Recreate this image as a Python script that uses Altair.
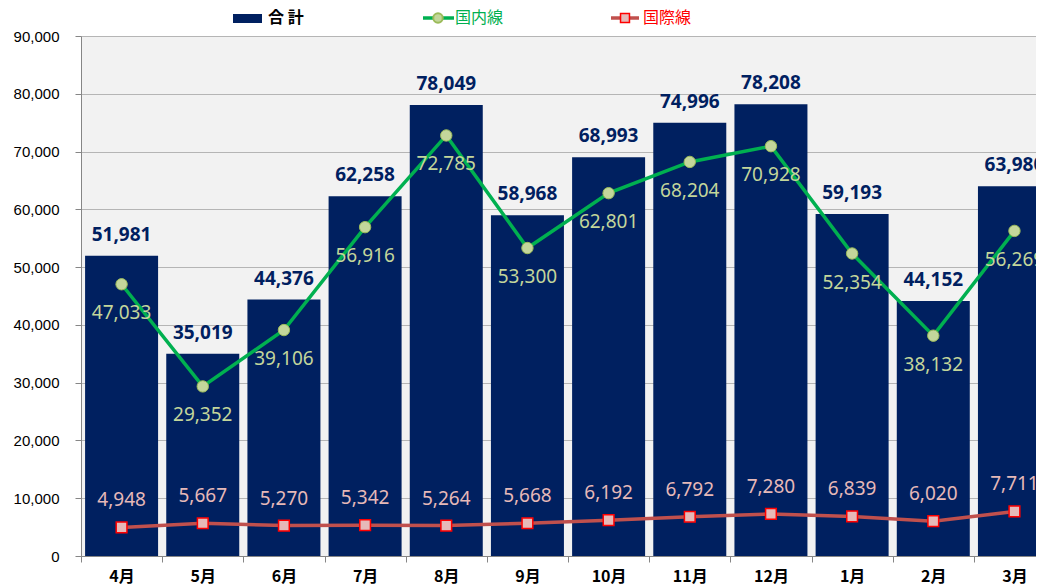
import altair as alt
import pandas as pd

months = ["4月", "5月", "6月", "7月", "8月", "9月", "10月", "11月", "12月", "1月", "2月", "3月"]
total = [51981, 35019, 44376, 62258, 78049, 58968, 68993, 74996, 78208, 59193, 44152, 63980]
domestic = [47033, 29352, 39106, 56916, 72785, 53300, 62801, 68204, 70928, 52354, 38132, 56269]
international = [4948, 5667, 5270, 5342, 5264, 5668, 6192, 6792, 7280, 6839, 6020, 7711]

df = pd.DataFrame({"month": months, "total": total, "domestic": domestic, "intl": international})
# category slot position (centre of each month's band)
df["pos"] = [i + 0.5 for i in range(len(months))]
legend_df = pd.DataFrame({"k": [0]})

NAVY = "#002060"
GREEN = "#00b050"
RED = "#c0504d"
NUMFONT = "Noto Sans"
CJK = "Noto Sans CJK JP"

PLOT_W = 955           # keeps the whole svg within the page body (1028px)
STEP = 81.17           # width of one month slot in pixels (chart runs past the right edge)
n = len(months)
visible_slots = PLOT_W / STEP

month_js = "[" + ",".join(f"'{m}'" for m in months) + "]"
tick_vals = [float(i) for i in range(n)] + [i + 0.5 for i in range(n)]

x_axis = alt.Axis(
    title=None, values=tick_vals, grid=False, labelOverlap=False, labelFlush=False,
    labelExpr=f"datum.value % 1 === 0 ? '' : {month_js}[floor(datum.value)]",
    tickSize=6,
    tickColor={"condition": {"test": "datum.value % 1 !== 0", "value": "rgba(0,0,0,0)"},
               "value": "#868686"},
    domainColor="#868686", labelFont=CJK, labelFontSize=16, labelFontWeight="bold",
    labelColor="#000000", labelPadding=6, labelAngle=0,
)
x_scale = alt.Scale(domain=[0, visible_slots], nice=False, zero=False, padding=0)
x_enc = alt.X("pos:Q", axis=x_axis, scale=x_scale)

y_axis = alt.Axis(title=None, values=list(range(0, 90001, 10000)), format=",d",
                  labelFont="Liberation Sans", labelFontSize=15, labelColor="#000000",
                  labelPadding=16, tickSize=6, tickColor="#868686", domainColor="#868686",
                  gridColor="#b5b5b5", gridWidth=1)
y_scale = alt.Scale(domain=[0, 90000], nice=False)

def Y(field):
    return alt.Y(f"{field}:Q", axis=y_axis, scale=y_scale)

base = alt.Chart(df)

bars = base.mark_bar(color=NAVY, size=73).encode(x=x_enc, y=Y("total"))
bar_labels = base.mark_text(dy=-21, baseline="middle", font=NUMFONT, fontSize=19,
                            fontWeight="bold", color=NAVY).encode(
    x=x_enc, y=Y("total"), text=alt.Text("total:Q", format=",d"))

dom_line = base.mark_line(color=GREEN, strokeWidth=3.5).encode(x=x_enc, y=Y("domestic"))
dom_pts = base.mark_point(shape="circle", filled=True, size=130, fill="#c3d69b",
                          stroke="#9bbb59", strokeWidth=1, opacity=1).encode(x=x_enc, y=Y("domestic"))
dom_labels = base.mark_text(dy=29, baseline="middle", font=NUMFONT, fontSize=19,
                            color="#c3d69b").encode(
    x=x_enc, y=Y("domestic"), text=alt.Text("domestic:Q", format=",d"))

int_line = base.mark_line(color=RED, strokeWidth=3.5).encode(x=x_enc, y=Y("intl"))
int_pts = base.mark_point(shape="square", filled=True, size=115, fill="#e6b9b8",
                          stroke="#ff0000", strokeWidth=1.5, opacity=1).encode(x=x_enc, y=Y("intl"))
int_labels = base.mark_text(dy=-27, baseline="middle", font=NUMFONT, fontSize=19,
                            color="#e6b9b8").encode(
    x=x_enc, y=Y("intl"), text=alt.Text("intl:Q", format=",d"))

lg = alt.Chart(legend_df)
leg = [
    lg.mark_rect(color=NAVY).encode(x=alt.value(152), x2=alt.value(181), y=alt.value(-22), y2=alt.value(-13)),
    lg.mark_text(align="left", baseline="middle", font=CJK, fontSize=16, fontWeight="bold",
                 color="#000000").encode(x=alt.value(187), y=alt.value(-18), text=alt.value("合 計")),
    lg.mark_rule(color=GREEN, strokeWidth=3.5).encode(x=alt.value(342), x2=alt.value(373), y=alt.value(-18)),
    lg.mark_point(shape="circle", filled=True, size=90, fill="#c3d69b", stroke="#9bbb59",
                  opacity=1).encode(x=alt.value(357), y=alt.value(-18)),
    lg.mark_text(align="left", baseline="middle", font=CJK, fontSize=16,
                 color=GREEN).encode(x=alt.value(374), y=alt.value(-18), text=alt.value("国内線")),
    lg.mark_rule(color=RED, strokeWidth=3.5).encode(x=alt.value(530), x2=alt.value(558), y=alt.value(-18)),
    lg.mark_point(shape="square", filled=True, size=80, fill="#e6b9b8", stroke="#ff0000",
                  strokeWidth=1.5, opacity=1).encode(x=alt.value(544), y=alt.value(-18)),
    lg.mark_text(align="left", baseline="middle", font=CJK, fontSize=16,
                 color="#ff0000").encode(x=alt.value(562), y=alt.value(-18), text=alt.value("国際線")),
]

chart = alt.layer(
    bars, dom_line, int_line, dom_pts, int_pts, bar_labels, dom_labels, int_labels, *leg
).properties(
    width=PLOT_W, height=520,
    autosize=alt.AutoSizeParams(type="none"),
    padding={"left": 73, "top": 28, "right": 0, "bottom": 29},
).configure_view(fill="#f2f2f2", stroke=None)

chart.save("out.html", embed_options={"renderer": "svg", "actions": False})
